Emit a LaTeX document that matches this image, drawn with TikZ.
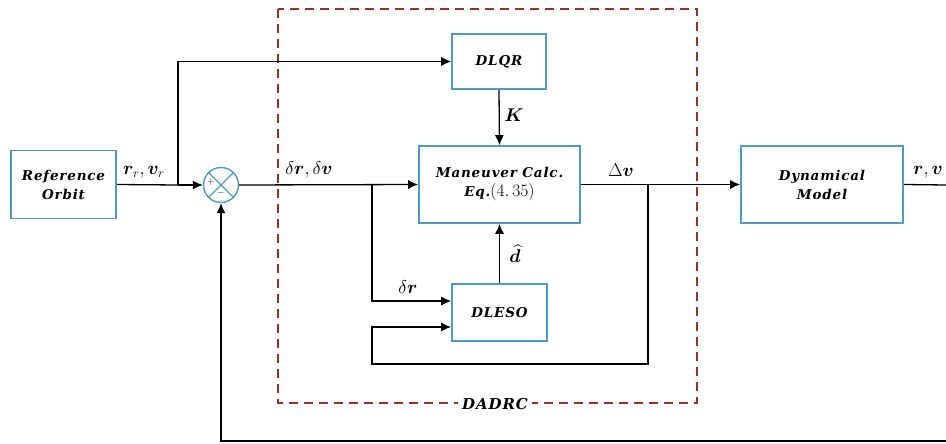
\RequirePackage{fix-cm}
\documentclass[tikz,border=0pt]{standalone}
\usepackage{amsmath,bm}
\usepackage{fontspec}
\setmainfont{DejaVu Serif}
\usetikzlibrary{arrows.meta}
\definecolor{boxblue}{RGB}{80,155,195}
\definecolor{dashred}{RGB}{150,50,40}
\begin{document}
\begin{tikzpicture}[x=1pt,y=-1pt,
  blk/.style={draw=boxblue,line width=1.6pt,fill=white,inner sep=0pt,align=center,
    font=\bfseries\itshape\fontsize{13.5}{19}\selectfont\addfontfeature{LetterSpace=6}},
  conn/.style={line width=1.3pt},
  arr/.style={conn,-{Latex[length=10pt,width=9pt]}},
  lbl/.style={inner sep=0pt,font=\fontsize{18.5}{21}\selectfont}]
\useasboundingbox (0,0) rectangle (946,444);
% DADRC dashed frame
\draw[dashred,line width=1.5pt,dash pattern=on 9pt off 6pt] (278,9) rectangle (697,403);
\node[inner sep=4pt,fill=white,font=\bfseries\itshape\fontsize{15}{18}\selectfont\addfontfeature{LetterSpace=6}] (dadrc) at (495,404) {DADRC};
% blocks
\node[blk,minimum width=105,minimum height=68] (ref) at (63.5,184.5) {Reference\\Orbit};
\node[circle,draw=boxblue,line width=1.4pt,minimum size=35,inner sep=0pt] (sum) at (221,185) {};
\draw[boxblue,line width=1.2pt] (sum.north east) -- (sum.south west) (sum.north west) -- (sum.south east);
\node[inner sep=0pt,font=\fontsize{9}{10}\selectfont] (plus) at (211,182) {$+$};
\node[inner sep=0pt,font=\fontsize{9}{10}\selectfont] (minus) at (221,193) {$-$};
\node[blk,minimum width=94,minimum height=55] (dlqr) at (499,61.5) {DLQR};
\node[blk,minimum width=161,minimum height=77] (man) at (499.5,184.5) {Maneuver Calc.\\Eq.{\normalfont\addfontfeature{LetterSpace=0}\fontsize{17.5}{19}\selectfont$(4.\,35)$}};
\node[blk,minimum width=95,minimum height=57] (dleso) at (499.5,312.5) {DLESO};
\node[blk,minimum width=162,minimum height=77] (dyn) at (822,184.5) {Dynamical\\Model};
% junction coordinates
\coordinate (b1) at (178,185);
\coordinate (j1) at (372,185);
\coordinate (j2) at (648,185);
\coordinate (loopc) at (372,364);
\coordinate (outR) at (946,185);
\coordinate (fbR) at (946,441);
% connectors
\draw[conn] (ref.east) -- (b1);
\draw[arr] (b1) -- (sum.west);
\draw[arr] (b1) |- (dlqr.west);
\draw[arr] (sum.east) -- (man.west);
\draw[arr] (dlqr.south) -- (man.north);
\draw[arr] (man.east) -- (dyn.west);
\draw[conn] (dyn.east) -- (outR);
\draw[arr] (fbR) -| (sum.south);
\draw[arr] (j1) |- ([yshift=11.5pt]dleso.west);
\draw[arr] (j2) |- (loopc) |- ([yshift=-14.5pt]dleso.west);
\draw[arr] (dleso.north) -- (man.south);
% labels
\node[lbl] (lrv) at (144,172) {$\bm{r}_r,\bm{v}_r$};
\node[lbl] (ldrv) at (309,170) {$\delta\bm{r},\delta\bm{v}$};
\node[lbl] (lK) at (514,115) {$\bm{K}$};
\node[lbl] (ldv) at (621,170) {$\Delta\bm{v}$};
\node[lbl] (ld) at (515,254) {$\widehat{\bm{d}}$};
\node[lbl] (ldr) at (408,287) {$\delta\bm{r}$};
\node[lbl] (lout) at (928,172) {$\bm{r},\bm{v}$};
\end{tikzpicture}
\end{document}
